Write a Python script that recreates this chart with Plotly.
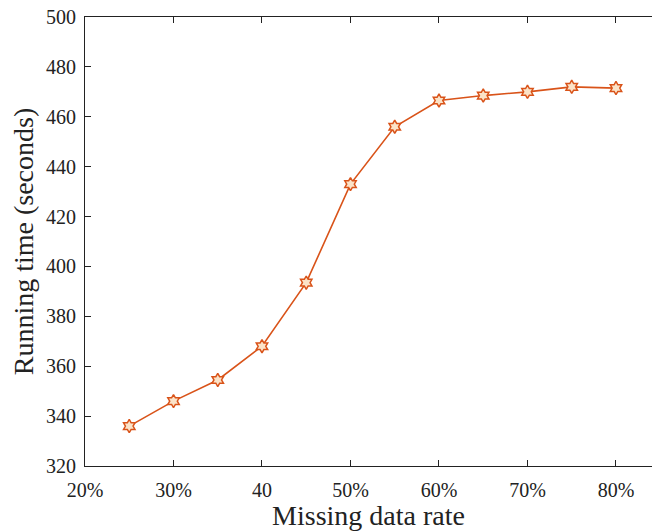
import plotly.graph_objects as go

missing_rate = [25, 30, 35, 40, 45, 50, 55, 60, 65, 70, 75, 80]
running_time = [336, 346, 354.5, 368, 393.5, 433, 456, 466.5, 468.5, 470, 472, 471.5]
x_tick_vals = [20, 30, 40, 50, 60, 70, 80]
x_tick_text = ["20%", "30%", "40", "50%", "60%", "70%", "80%"]
y_tick_vals = [320, 340, 360, 380, 400, 420, 440, 460, 480, 500]

fig = go.Figure()
fig.add_trace(go.Scatter(
    x=missing_rate, y=running_time, mode="lines+markers",
    line=dict(color="#D95319", width=1.6),
    marker=dict(symbol="hexagram", size=10, color="#FBE3C8",
                line=dict(color="#D95319", width=1.5)),
    showlegend=False,
))

ff = "Liberation Serif"
fig.update_layout(
    width=652, height=531,
    margin=dict(l=85, r=0, t=17, b=65),
    paper_bgcolor="white", plot_bgcolor="white",
    font=dict(family=ff, color="#222222"),
)
fig.update_xaxes(
    range=[20, 84.07], tickvals=x_tick_vals, ticktext=x_tick_text,
    showline=True, linecolor="#222222", linewidth=1.2, mirror="ticks",
    ticks="inside", ticklen=6, tickcolor="#222222", showgrid=False, zeroline=False,
    tickfont=dict(size=20, family=ff, color="#222222"), ticklabelstandoff=6,
    title=dict(text="Missing data rate", font=dict(size=28, family=ff, color="#222222"), standoff=0),
)
fig.update_yaxes(
    range=[320, 500], tickvals=y_tick_vals,
    showline=True, linecolor="#222222", linewidth=1.2, mirror=False,
    ticks="inside", ticklen=6, tickcolor="#222222", showgrid=False, zeroline=False,
    tickfont=dict(size=20, family=ff, color="#222222"), ticklabelstandoff=4,
    title=dict(text="Running time (seconds)", font=dict(size=28, family=ff, color="#222222"), standoff=4),
)
fig.write_html("out.html")
